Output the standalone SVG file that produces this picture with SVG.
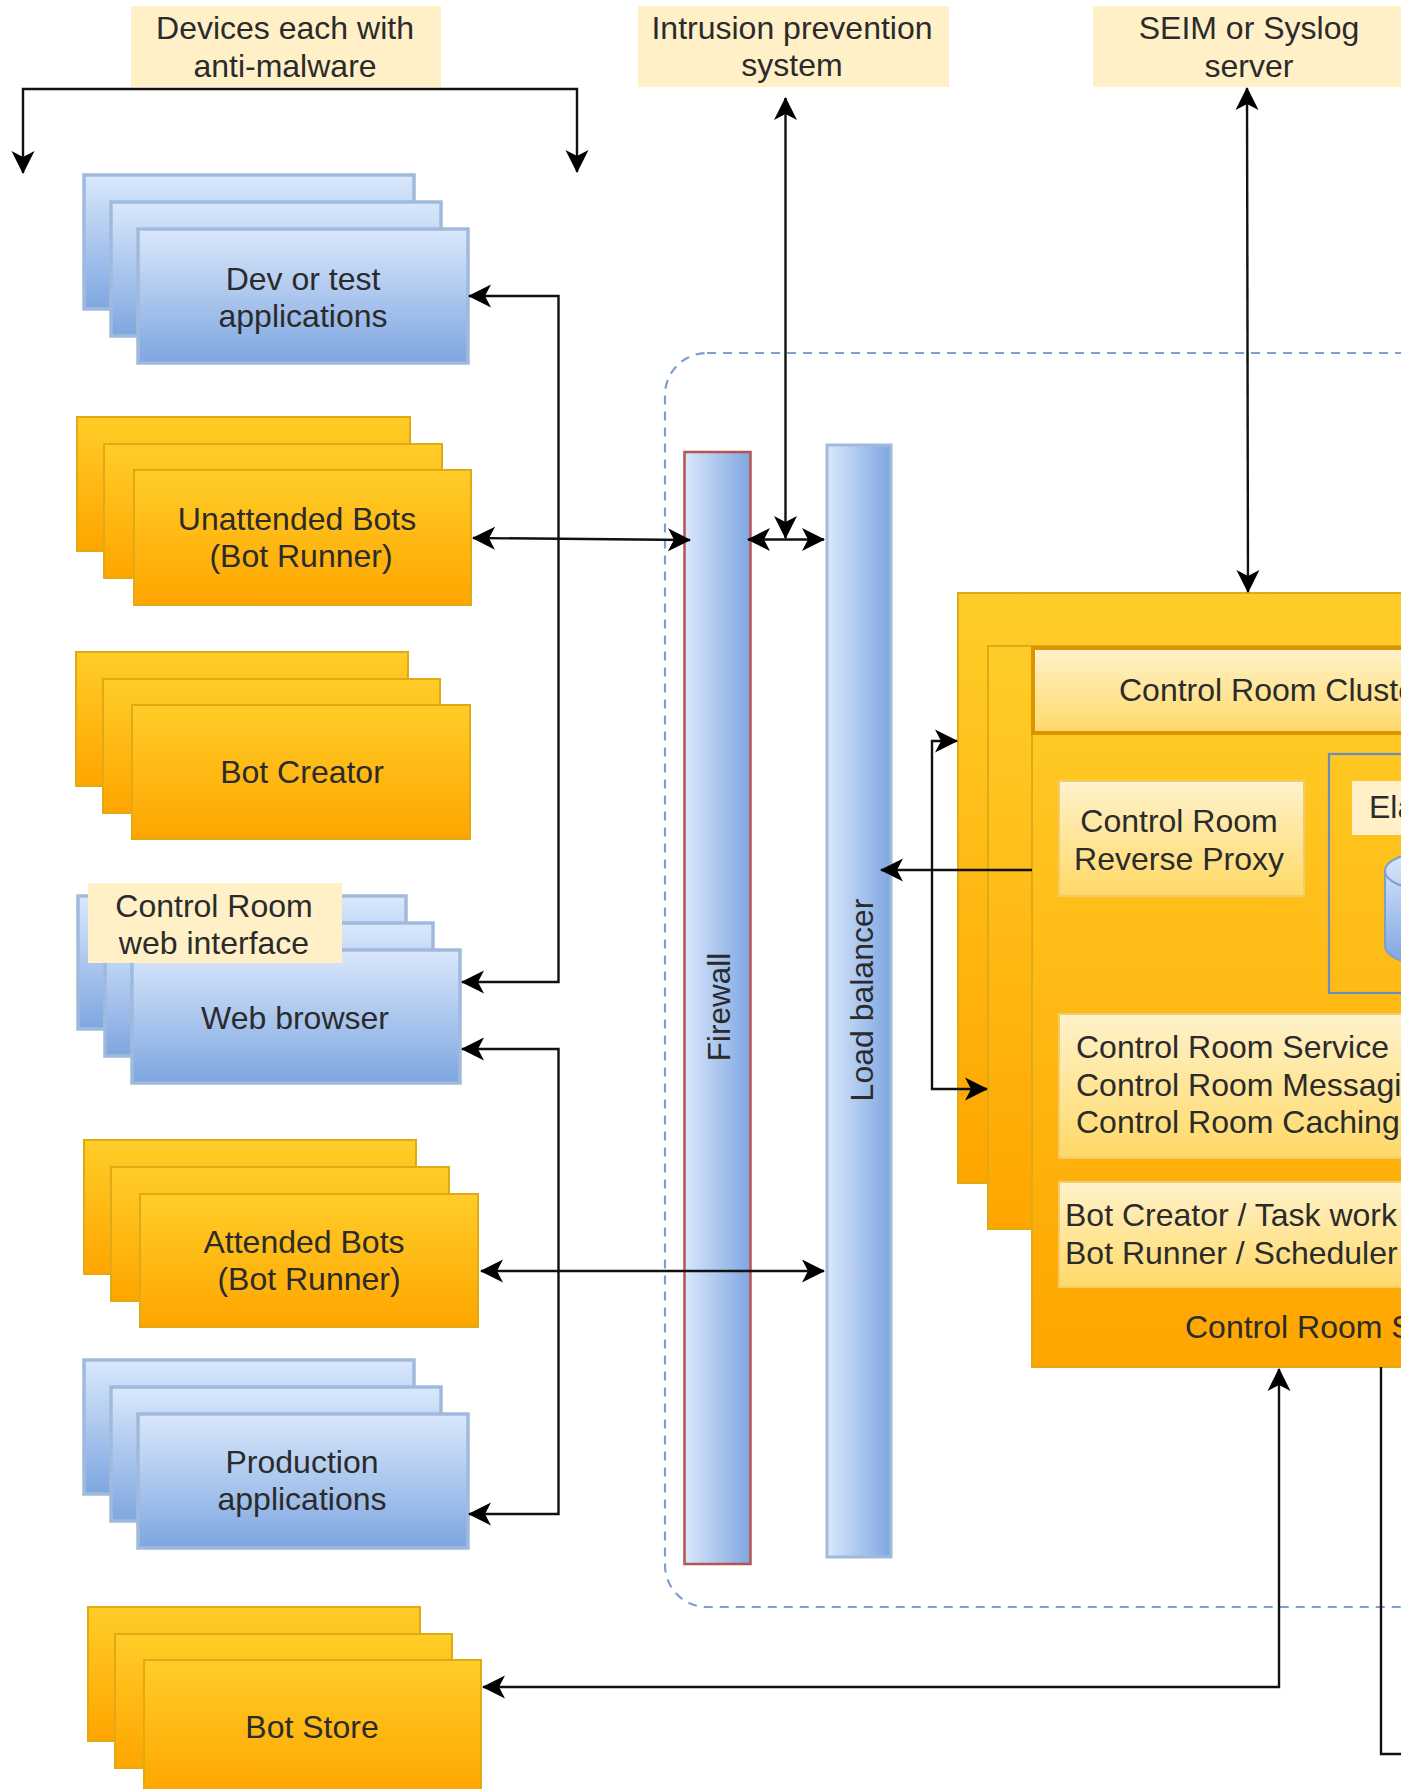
<svg xmlns="http://www.w3.org/2000/svg" width="1401" height="1789" viewBox="0 0 1401 1789">
<style>
text{font-family:"Liberation Sans",Arial,sans-serif;font-size:32px;fill:#2b2b2b}
.m{text-anchor:middle}
.o{fill:url(#orange);stroke:#e0aa14;stroke-width:2}
.b{fill:url(#blue);stroke:#a0bade;stroke-width:3.5}
.lab{fill:#fff0c8}
.cream{fill:url(#cream);stroke:#f0cc70;stroke-width:2}
.c{fill:none;stroke:#111;stroke-width:2.4;stroke-linejoin:miter}
.e{marker-end:url(#arr)}
.d{marker-end:url(#arr);marker-start:url(#arr)}
</style>
<defs>
<linearGradient id="orange" x1="0" y1="0" x2="0" y2="1"><stop offset="0" stop-color="#ffcd28"/><stop offset="1" stop-color="#ffa500"/></linearGradient>
<linearGradient id="blue" x1="0" y1="0" x2="0" y2="1"><stop offset="0" stop-color="#dae8fc"/><stop offset="1" stop-color="#7ea6e0"/></linearGradient>
<linearGradient id="blueH" x1="0" y1="0" x2="1" y2="0"><stop offset="0" stop-color="#dae8fc"/><stop offset="1" stop-color="#7ea6e0"/></linearGradient>
<linearGradient id="cream" x1="0" y1="0" x2="0" y2="1"><stop offset="0" stop-color="#fff2cc"/><stop offset="1" stop-color="#ffd966"/></linearGradient>
<marker id="arr" markerUnits="userSpaceOnUse" viewBox="0 0 23 25" markerWidth="23" markerHeight="25" refX="22" refY="12.500" orient="auto-start-reverse"><path d="M23,12.500 L0,1 L6,12.500 L0,24 Z" fill="#000"/></marker>
</defs>
<rect width="1401" height="1789" fill="#fff"/>

<g id="zone"><rect x="665" y="353" width="900" height="1254" rx="42" fill="none" stroke="#7f9fcf" stroke-width="2.200" stroke-dasharray="9 7"/></g>

<g id="label-devices"><rect class="lab" x="131" y="6" width="310" height="81"/><text class="m" x="285" y="39">Devices each with</text><text class="m" x="285" y="77">anti-malware</text></g>
<g id="label-ips"><rect class="lab" x="638" y="6" width="311" height="81"/><text class="m" x="792" y="39">Intrusion prevention</text><text class="m" x="792" y="76">system</text></g>
<g id="label-seim"><rect class="lab" x="1093" y="6" width="320" height="81"/><text class="m" x="1249" y="39">SEIM or Syslog</text><text class="m" x="1249" y="77">server</text></g>

<g id="dev-apps"><rect class="b" x="84" y="175" width="330" height="134"/><rect class="b" x="111" y="202" width="330" height="134"/><rect class="b" x="138" y="229" width="330" height="134"/><text class="m" x="303" y="290">Dev or test</text><text class="m" x="303" y="327">applications</text></g>
<g id="unattended"><rect class="o" x="77" y="417" width="333" height="134"/><rect class="o" x="104" y="444" width="338" height="134"/><rect class="o" x="134" y="470" width="337" height="135"/><text class="m" x="297" y="530">Unattended Bots</text><text class="m" x="301" y="567">(Bot Runner)</text></g>
<g id="bot-creator"><rect class="o" x="76" y="652" width="332" height="134"/><rect class="o" x="103" y="679" width="337" height="134"/><rect class="o" x="132" y="705" width="338" height="134"/><text class="m" x="302" y="783">Bot Creator</text></g>
<g id="web-browser"><rect class="b" x="78" y="896" width="328" height="133"/><rect class="b" x="105" y="923" width="328" height="133"/><rect class="b" x="132" y="950" width="328" height="133"/><rect class="lab" x="88" y="883" width="254" height="80"/><text class="m" x="214" y="917">Control Room</text><text class="m" x="214" y="954">web interface</text><text class="m" x="295" y="1029">Web browser</text></g>
<g id="attended"><rect class="o" x="84" y="1140" width="332" height="134"/><rect class="o" x="111" y="1167" width="338" height="134"/><rect class="o" x="140" y="1194" width="338" height="133"/><text class="m" x="304" y="1253">Attended Bots</text><text class="m" x="309" y="1290">(Bot Runner)</text></g>
<g id="prod-apps"><rect class="b" x="84" y="1360" width="330" height="134"/><rect class="b" x="111" y="1387" width="330" height="134"/><rect class="b" x="138" y="1414" width="330" height="134"/><text class="m" x="302" y="1473">Production</text><text class="m" x="302" y="1510">applications</text></g>
<g id="bot-store"><rect class="o" x="88" y="1607" width="332" height="134"/><rect class="o" x="115" y="1634" width="337" height="134"/><rect class="o" x="144" y="1660" width="337" height="136"/><text class="m" x="312" y="1738">Bot Store</text></g>

<g id="firewall"><rect x="684.500" y="452" width="66" height="1112" fill="url(#blueH)" stroke="#b85450" stroke-width="2.500"/><text class="m" style="font-size:31.500px" transform="translate(730,1007) rotate(-90)">Firewall</text></g>
<g id="load-balancer"><rect x="827" y="445" width="64" height="1112" fill="url(#blueH)" stroke="#a0bade" stroke-width="3"/><text class="m" transform="translate(873,1000) rotate(-90)">Load balancer</text></g>

<g id="control-room">
<rect class="o" x="958" y="593" width="480" height="590"/>
<rect class="o" x="988" y="646" width="450" height="583"/>
<rect class="o" x="1032" y="648" width="400" height="719"/>
<rect x="1033" y="648" width="400" height="85" fill="url(#cream)" stroke="#dc9400" stroke-width="4"/>
<text x="1119" y="701">Control Room Cluste</text>
<g id="reverse-proxy"><rect class="cream" x="1059" y="781" width="245" height="115"/><text class="m" x="1179" y="832">Control Room</text><text class="m" x="1179" y="870">Reverse Proxy</text></g>
<g id="elastic"><rect x="1329" y="754" width="120" height="239" fill="none" stroke="#6c8ebf" stroke-width="2.200"/><rect class="lab" x="1352" y="781" width="80" height="54"/><text x="1369" y="818">Ela</text>
<path d="M1385,871 A40,18 0 0 1 1465,871 V946 A40,18 0 0 1 1385,946 Z" fill="url(#blue)" stroke="#7f9fcf" stroke-width="2"/><path d="M1385,871 A40,18 0 0 0 1465,871" fill="none" stroke="#7f9fcf" stroke-width="2"/></g>
<g id="services"><rect class="cream" x="1059" y="1014" width="370" height="144"/><text x="1076" y="1058">Control Room Service</text><text x="1076" y="1096">Control Room Messagi</text><text x="1076" y="1133">Control Room Caching</text></g>
<g id="clients"><rect class="cream" x="1059" y="1182" width="370" height="105"/><text x="1065" y="1226">Bot Creator / Task work</text><text x="1065" y="1264">Bot Runner / Scheduler</text></g>
<text x="1185" y="1338">Control Room S</text>
</g>

<g id="connectors">
<path class="c d" d="M23,173 V89 H577 V172"/>
<path class="c d" d="M785.500,98 V538"/>
<path class="c d" d="M748,539.500 H824"/>
<path class="c d" d="M1247,88 L1248,592"/>
<path class="c d" d="M473,538 L690,540"/>
<path class="c d" d="M469,296 H558.500 V982 H462"/>
<path class="c d" d="M469,1514 H558.500 V1049 H462"/>
<path class="c d" d="M481,1271 H824"/>
<path class="c d" d="M483,1687 H1279 V1369"/>
<path class="c" d="M1381,1367 V1754 H1410"/>
<path class="c e" d="M1032,870 H881"/>
<path class="c d" d="M957,741 H932 V1089 H987"/>
</g>
</svg>
